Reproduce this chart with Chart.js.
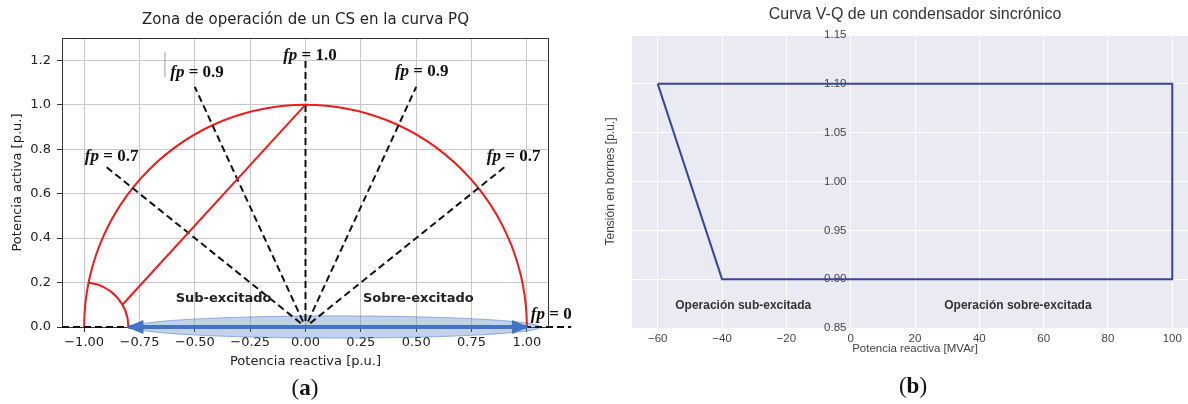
<!DOCTYPE html>
<html>
<head>
<meta charset="utf-8">
<script src="https://cdn.jsdelivr.net/npm/chart.js@4.4.1/dist/chart.umd.min.js"></script>
<style>
  body { margin: 0; background: #fff; width: 1188px; height: 404px; overflow: hidden; position: relative; }
  #wa { position: absolute; left: 0; top: 0; width: 600px; height: 404px; }
  #wb { position: absolute; left: 600px; top: 0; width: 588px; height: 404px; overflow: hidden; }
  #wb .inner { position: absolute; left: 0; top: 0; width: 620px; height: 404px; }
  .cap { position: absolute; font-family: 'Liberation Serif', serif; font-size: 23px; color: #111; transform: translate(-50%, -50%); }
</style>
</head>
<body>
<div id="wa"><canvas id="ca"></canvas></div>
<div id="wb"><div class="inner"><canvas id="cb"></canvas></div></div>
<div class="cap" style="left:305px;top:388px">(<b>a</b>)</div>
<div class="cap" style="left:913px;top:386px">(<b>b</b>)</div>
<script>
// ---- (a) zona de operacion en el plano PQ [p.u.]
const pqXTicks = [-1, -0.75, -0.5, -0.25, 0, 0.25, 0.5, 0.75, 1];
const pqYTicks = [0, 0.2, 0.4, 0.6, 0.8, 1.0, 1.2];
// arcos: limite de capacidad (S = 1) y limite de subexcitacion
const arcQ = [0, -1];
const arcP = [0, 0];
const arcR = [1.0, 0.2];
const arcFrom = [0, 0];
const arcTo = [180, 84];
// recta desde P = 1 hasta el limite de subexcitacion
const chordQ = [0, -0.827];
const chordP = [1.0, 0.1];
// rectas de factor de potencia (desde el origen)
const fpEndQ = [0, -0.50, 0.50, -0.90, 0.90];
const fpEndP = [1.2, 1.08, 1.08, 0.72, 0.72];
const fp0Q = [-1.1, 1.2];
// rango de operacion (flecha) y franja sombreada
const rangeQ = [-0.8, 1.0];
const bandQ = [-0.78, 1.06];
const bandP = [-0.05, 0.05];
// marca gris suelta junto a la etiqueta
const markQ = [-0.635, -0.635];
const markP = [1.125, 1.235];
// etiquetas
const fpText = ['1.0', '0.9', '0.9', '0.7', '0.7', '0'];
const fpTextQ = [0.02, -0.49, 0.525, -0.876, 0.94, 1.11];
const fpTextP = [1.22, 1.145, 1.15, 0.766, 0.766, 0.054];
const zoneText = ['Sub-excitado', 'Sobre-excitado'];
const zoneQ = [-0.37, 0.51];
const zoneP = [0.126, 0.126];

// ---- (b) curva V-Q
const vqQ = [-60, -40, 100, 100, -60];
const vqV = [1.10, 0.90, 0.90, 1.10, 1.10];
const vqXTicks = [-60, -40, -20, 0, 20, 40, 60, 80, 100];
const vqYTicks = [0.85, 0.90, 0.95, 1.00, 1.05, 1.10, 1.15];
const vqText = ['Operación sub-excitada', 'Operación sobre-excitada'];
const vqTextQ = [-33.4, 52];
const vqTextV = [0.8725, 0.8725];

const signed = (v, d) => (v < 0 ? '\u2212' : '') + Math.abs(v).toFixed(d);
const pts = (xs, ys) => xs.map((x, i) => ({ x, y: ys[i] }));

function seg(data, color, width, dash, extra) {
  return Object.assign({ data, borderColor: color, borderWidth: width, borderDash: dash || [],
    showLine: true, pointRadius: 0, fill: false, tension: 0 }, extra || {});
}

const pqDatasets = [
  seg(pts(rangeQ, [0, 0]), '#4472c4', 4, null, { arrowHeads: true, clip: false }),
  seg(pts(chordQ, chordP), '#ee1c1c', 2),
  seg(pts(fp0Q, [0, 0]), '#111', 2, [7, 4], { clip: { left: 0, top: 0, right: 30, bottom: 5 } }),
  seg(pts(markQ, markP), '#9a9a9a', 1)
];
fpEndQ.forEach((q, i) => pqDatasets.push(seg(pts([0, q], [0, fpEndP[i]]), '#111', 2, [7, 4], { borderDashOffset: 5 })));

const pqDecor = {
  id: 'pqDecor',
  beforeDatasetsDraw(chart) {
    const { ctx, chartArea: a, scales: { x, y } } = chart;
    ctx.save();
    ctx.strokeStyle = '#333';
    ctx.lineWidth = 1;
    ctx.strokeRect(a.left + 0.5, a.top + 0.5, a.right - a.left - 1, a.bottom - a.top);
    // franja
    const x0 = x.getPixelForValue(bandQ[0]), x1 = x.getPixelForValue(bandQ[1]);
    const y0 = y.getPixelForValue(bandP[0]), y1 = y.getPixelForValue(bandP[1]);
    ctx.beginPath();
    ctx.ellipse((x0 + x1) / 2, (y0 + y1) / 2, (x1 - x0) / 2, Math.abs(y0 - y1) / 2, 0, 0, 2 * Math.PI);
    ctx.fillStyle = 'rgba(68,114,196,0.32)';
    ctx.fill();
    ctx.strokeStyle = 'rgba(68,114,196,0.5)';
    ctx.stroke();
    // arcos
    ctx.strokeStyle = '#ee1c1c';
    ctx.lineWidth = 2;
    arcR.forEach((r, i) => {
      const cx = x.getPixelForValue(arcQ[i]), cy = y.getPixelForValue(arcP[i]);
      const rx = x.getPixelForValue(arcQ[i] + r) - cx;
      const ry = cy - y.getPixelForValue(arcP[i] + r);
      ctx.beginPath();
      ctx.ellipse(cx, cy, rx, ry, 0, -arcTo[i] * Math.PI / 180, -arcFrom[i] * Math.PI / 180);
      ctx.stroke();
    });
    ctx.restore();
  },
  afterDatasetsDraw(chart) {
    const { ctx, chartArea: a, scales: { x, y } } = chart;
    ctx.save();
    // puntas de flecha
    chart.data.datasets.forEach((ds, i) => {
      if (!ds.arrowHeads) return;
      const el = chart.getDatasetMeta(i).data;
      [[el[0], el[1]], [el[1], el[0]]].forEach(([tip, from]) => {
        const ang = Math.atan2(tip.y - from.y, tip.x - from.x);
        ctx.save();
        ctx.translate(tip.x, tip.y);
        ctx.rotate(ang);
        ctx.beginPath();
        ctx.moveTo(2, 0);
        ctx.lineTo(-15, -7);
        ctx.lineTo(-15, 7);
        ctx.closePath();
        ctx.fillStyle = ds.borderColor;
        ctx.fill();
        ctx.restore();
      });
    });
    // etiquetas fp
    ctx.fillStyle = '#111';
    ctx.textBaseline = 'middle';
    const fItal = 'italic bold 17px "Liberation Serif"';
    const fBold = 'bold 17px "Liberation Serif"';
    fpText.forEach((t, i) => {
      ctx.font = fItal;
      const w1 = ctx.measureText('fp').width;
      ctx.font = fBold;
      const rest = ' = ' + t;
      const w2 = ctx.measureText(rest).width;
      const cx = x.getPixelForValue(fpTextQ[i]), cy = y.getPixelForValue(fpTextP[i]);
      const left = cx - (w1 + w2) / 2;
      ctx.textAlign = 'left';
      ctx.font = fItal;
      ctx.fillText('fp', left, cy);
      ctx.font = fBold;
      ctx.fillText(rest, left + w1, cy);
    });
    ctx.font = 'bold 13px "DejaVu Sans"';
    ctx.fillStyle = '#222';
    ctx.textAlign = 'center';
    zoneText.forEach((t, i) => ctx.fillText(t, x.getPixelForValue(zoneQ[i]), y.getPixelForValue(zoneP[i])));
    // titulo centrado sobre los ejes
    ctx.font = '15px "DejaVu Sans"';
    ctx.fillStyle = '#222';
    ctx.fillText('Zona de operación de un CS en la curva PQ', (a.left + a.right) / 2, 20);
    ctx.restore();
  }
};

new Chart(document.getElementById('ca'), {
  type: 'scatter',
  data: { datasets: pqDatasets },
  options: {
    responsive: true,
    maintainAspectRatio: false,
    animation: false,
    events: [],
    layout: { padding: { left: 10, right: 51, top: 38, bottom: 35 } },
    plugins: { legend: { display: false }, tooltip: { enabled: false } },
    scales: {
      x: {
        type: 'linear', min: -1.1, max: 1.1,
        afterBuildTicks: (s) => { s.ticks = pqXTicks.map((v) => ({ value: v })); },
        afterFit: (s) => { s.height = 42; },
        grid: { color: '#c8c8c8', lineWidth: 1, tickLength: 5, tickColor: '#333' },
        border: { display: false },
        ticks: { font: { family: 'DejaVu Sans', size: 13 }, color: '#222', padding: 3, maxRotation: 0,
          callback: (v) => signed(v, 2) },
        title: { display: true, text: 'Potencia reactiva [p.u.]', font: { family: 'DejaVu Sans', size: 13 },
          color: '#222', padding: 0 }
      },
      y: {
        type: 'linear', min: 0, max: 1.3,
        afterBuildTicks: (s) => { s.ticks = pqYTicks.map((v) => ({ value: v })); },
        afterFit: (s) => { s.width = 52; },
        grid: { color: '#c8c8c8', lineWidth: 1, tickLength: 5, tickColor: '#333' },
        border: { display: false },
        ticks: { font: { family: 'DejaVu Sans', size: 13 }, color: '#222', padding: 6,
          callback: (v) => signed(v, 1) },
        title: { display: true, text: 'Potencia activa [p.u.]', font: { family: 'DejaVu Sans', size: 13 },
          color: '#222', padding: 0 }
      }
    }
  },
  plugins: [pqDecor]
});

const vqDecor = {
  id: 'vqDecor',
  beforeDraw(chart) {
    const { ctx, chartArea: a } = chart;
    ctx.save();
    ctx.fillStyle = '#eaeaf2';
    ctx.fillRect(a.left, a.top, a.right - a.left, a.bottom - a.top);
    ctx.restore();
  },
  afterDatasetsDraw(chart) {
    const { ctx, chartArea: a, scales: { x, y } } = chart;
    ctx.save();
    ctx.font = 'bold 12px "Liberation Sans"';
    ctx.fillStyle = '#333';
    ctx.textAlign = 'center';
    ctx.textBaseline = 'middle';
    vqText.forEach((t, i) => ctx.fillText(t, x.getPixelForValue(vqTextQ[i]), y.getPixelForValue(vqTextV[i])));
    ctx.font = '16px "Liberation Sans"';
    ctx.fillText('Curva V-Q de un condensador sincrónico', (a.left + a.right) / 2, 15);
    ctx.restore();
  }
};

new Chart(document.getElementById('cb'), {
  type: 'scatter',
  data: { datasets: [seg(pts(vqQ, vqV), '#36459a', 2)] },
  options: {
    responsive: true,
    maintainAspectRatio: false,
    animation: false,
    events: [],
    layout: { padding: { left: 3, right: 22, top: 35, bottom: 48 } },
    plugins: { legend: { display: false }, tooltip: { enabled: false } },
    scales: {
      x: {
        type: 'linear', min: -68, max: 108,
        afterBuildTicks: (s) => { s.ticks = vqXTicks.map((v) => ({ value: v })); },
        afterFit: (s) => { s.height = 28; },
        grid: { color: '#ffffff', lineWidth: 1, drawTicks: false },
        border: { display: false },
        ticks: { font: { family: 'Liberation Sans', size: 11.5 }, color: '#444', padding: 4, maxRotation: 0,
          callback: (v) => (v < 0 ? '\u2212' : '') + Math.abs(v) },
        title: { display: true, text: 'Potencia reactiva [MVAr]', font: { family: 'Liberation Sans', size: 11.5 },
          color: '#444', padding: 0 }
      },
      y: {
        type: 'linear', min: 0.85, max: 1.15, position: { x: -1.3 },
        afterBuildTicks: (s) => { s.ticks = vqYTicks.map((v) => ({ value: v })); },
        grid: { color: '#ffffff', lineWidth: 1, drawTicks: false },
        border: { display: false },
        ticks: { font: { family: 'Liberation Sans', size: 11.5 }, color: '#444', padding: 4,
          callback: (v) => v.toFixed(2) }
      },
      yt: {
        type: 'linear', axis: 'y', position: 'left', min: 0.85, max: 1.15,
        afterFit: (s) => { s.width = 29; },
        grid: { display: false },
        border: { display: false },
        ticks: { display: false },
        title: { display: true, text: 'Tensión en bornes [p.u.]', font: { family: 'Liberation Sans', size: 12 },
          color: '#444', padding: 0 }
      }
    }
  },
  plugins: [vqDecor]
});
</script>
</body>
</html>
